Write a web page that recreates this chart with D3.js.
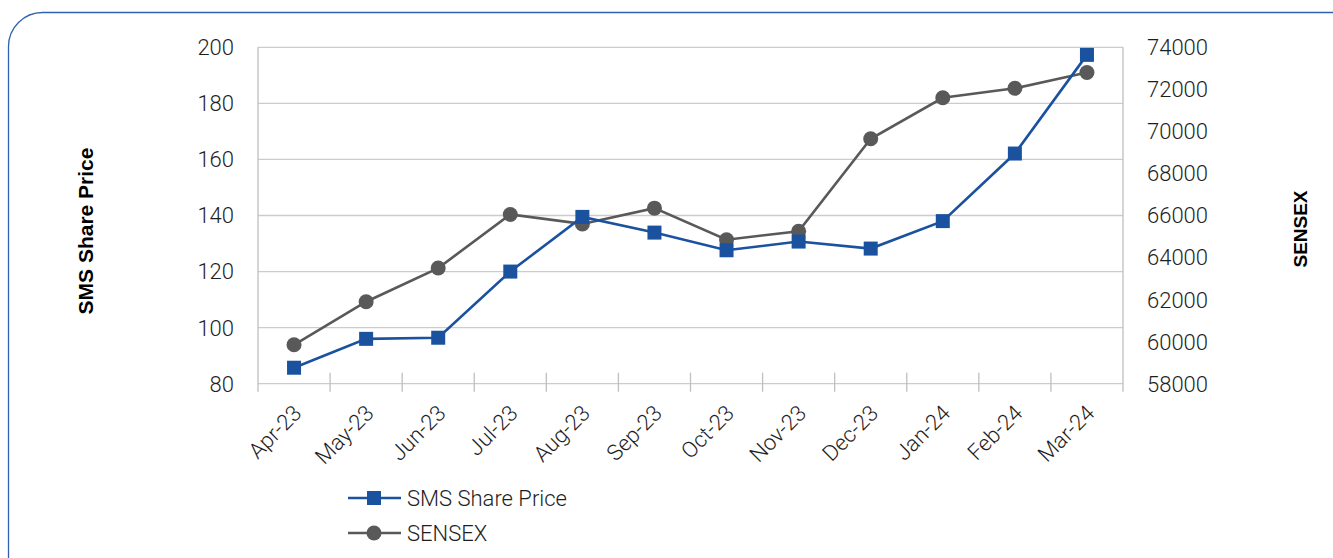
<!DOCTYPE html>
<html><head><meta charset="utf-8">
<script src="https://cdn.jsdelivr.net/npm/d3@7"></script>
<style>html,body{margin:0;padding:0;background:#fff;}svg{display:block;font-family:Roboto,"Noto Sans",sans-serif;}</style>
</head><body>
<svg id="c" width="1333" height="558"></svg>
<script>
const categories = ["Apr-23","May-23","Jun-23","Jul-23","Aug-23","Sep-23","Oct-23","Nov-23","Dec-23","Jan-24","Feb-24","Mar-24"];
const smsPrice = [85.7, 96.0, 96.4, 120.0, 139.5, 133.9, 127.6, 130.7, 128.2, 138.0, 162.1, 197.3];
const sensex = [59850, 61900, 63500, 66050, 65600, 66350, 64850, 65250, 69650, 71600, 72050, 72800];
const leftTicks = [80,100,120,140,160,180,200];
const rightTicks = [58000,60000,62000,64000,66000,68000,70000,72000,74000];
const seriesNames = ["SMS Share Price","SENSEX"];

const svg = d3.select("#c");
const L = 258, R = 1123, T = 47.3, B = 383.7;
const blue = "#1a52a0", gray = "#595959", grid = "#cccccc", txt = "#1e1e1e";

// rounded border
svg.append("rect").attr("x",8.5).attr("y",12.5).attr("width",1360).attr("height",600)
  .attr("rx",34).attr("fill","none").attr("stroke","#2f62ad").attr("stroke-width",1.3);

const x = d3.scaleBand().domain(categories).range([L,R]).padding(0);
const yL = d3.scaleLinear().domain([80,200]).range([B,T]);
const yR = d3.scaleLinear().domain([58000,74000]).range([B,T]);

// gridlines
svg.append("g").selectAll("line").data(leftTicks).join("line")
  .attr("x1",L).attr("x2",R).attr("y1",d=>yL(d)).attr("y2",d=>yL(d))
  .attr("stroke",grid).attr("stroke-width",1.3);
// axis lines
svg.append("line").attr("x1",L).attr("x2",L).attr("y1",T).attr("y2",B+8).attr("stroke","#bfbfbf").attr("stroke-width",1.3);
svg.append("line").attr("x1",R).attr("x2",R).attr("y1",T).attr("y2",B+8).attr("stroke","#bfbfbf").attr("stroke-width",1.3);
// category ticks
const bounds = categories.map(c=>x(c)).slice(1);
svg.append("g").selectAll("line").data(bounds).join("line")
  .attr("x1",d=>d).attr("x2",d=>d).attr("y1",B-11).attr("y2",B+8)
  .attr("stroke","#bfbfbf").attr("stroke-width",1.3);

// left ticks labels
svg.append("g").selectAll("text").data(leftTicks).join("text")
  .attr("x",234).attr("y",d=>yL(d)).attr("dy","0.36em").attr("text-anchor","end")
  .attr("font-size",22).attr("font-weight",300).attr("fill",txt).text(d=>d);
// right tick labels
svg.append("g").selectAll("text").data(rightTicks).join("text")
  .attr("x",1147).attr("y",d=>yR(d)).attr("dy","0.36em").attr("text-anchor","start")
  .attr("font-size",22).attr("font-weight",300).attr("fill",txt).text(d=>d);
// x labels
svg.append("g").selectAll("text").data(categories).join("text")
  .attr("transform",d=>`translate(${x(d)+x.bandwidth()/2-2},${B+20}) rotate(-45)`)
  .attr("text-anchor","end").attr("dy","0.7em")
  .attr("font-size",22).attr("font-weight",300).attr("fill",txt).text(d=>d);

// axis titles
svg.append("text").attr("transform",`translate(93,231) rotate(-90)`)
  .attr("text-anchor","middle").attr("font-size",21).attr("font-weight","bold")
  .attr("font-family","'Liberation Sans',Arial,sans-serif").attr("fill","#000").text("SMS Share Price");
svg.append("text").attr("transform",`translate(1307,229) rotate(-90)`)
  .attr("text-anchor","middle").attr("font-size",19).attr("font-weight","bold")
  .attr("font-family","'Liberation Sans',Arial,sans-serif").attr("fill","#000").text("SENSEX");

const cx = d=>x(d)+x.bandwidth()/2;
// SENSEX line
svg.append("path").datum(sensex.map((v,i)=>[cx(categories[i]),yR(v)]))
  .attr("d",d3.line()).attr("fill","none").attr("stroke",gray).attr("stroke-width",2.6);
svg.append("g").selectAll("circle").data(sensex).join("circle")
  .attr("cx",(d,i)=>cx(categories[i])).attr("cy",d=>yR(d)).attr("r",7.5).attr("fill",gray);
// SMS line
svg.append("path").datum(smsPrice.map((v,i)=>[cx(categories[i]),yL(v)]))
  .attr("d",d3.line()).attr("fill","none").attr("stroke",blue).attr("stroke-width",2.6);
svg.append("g").selectAll("rect").data(smsPrice).join("rect")
  .attr("x",(d,i)=>cx(categories[i])-7).attr("y",d=>yL(d)-7).attr("width",14).attr("height",14).attr("fill",blue);

// legend
const lg = svg.append("g");
const ly = [498, 533];
seriesNames.forEach((n,i)=>{
  const col = i===0?blue:gray;
  lg.append("line").attr("x1",348).attr("x2",401).attr("y1",ly[i]).attr("y2",ly[i]).attr("stroke",col).attr("stroke-width",2.6);
  if(i===0) lg.append("rect").attr("x",367).attr("y",ly[i]-7).attr("width",14).attr("height",14).attr("fill",col);
  else lg.append("circle").attr("cx",374).attr("cy",ly[i]).attr("r",7.5).attr("fill",col);
  lg.append("text").attr("x",407).attr("y",ly[i]).attr("dy","0.36em").attr("font-size",22).attr("font-weight",300).attr("fill",txt).text(n);
});
</script>
</body></html>
